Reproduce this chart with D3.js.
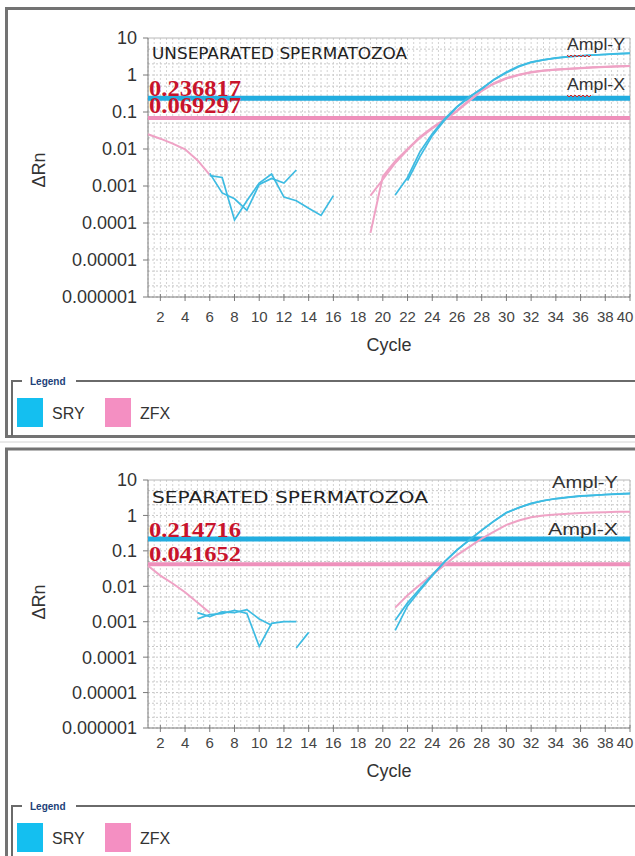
<!DOCTYPE html>
<html>
<head>
<meta charset="utf-8">
<script src="https://cdn.jsdelivr.net/npm/d3@7"></script>
<style>
body{margin:0;background:#fff;}
svg{display:block;}
</style>
</head>
<body>
<div class="c_chart"></div>
<script>
/*DATA
------------------------------------------------------
------------------------------------------------------
*/

const cycles = d3.range(1, 41);
const xTickValues = d3.range(2, 41, 2);
const yTickValues = [10, 1, 0.1, 0.01, 0.001, 0.0001, 0.00001, 0.000001];
const yTickLabels = ["10", "1", "0.1", "0.01", "0.001", "0.0001", "0.00001", "0.000001"];
const legendNames = ["SRY", "ZFX"];

/*unseparated : deltaRn per cycle (null = not plotted)*/
const unsepSryA = [
	null, null, null, null, null,
	0.0019, 0.0017, 0.00012, 0.0004, 0.0012,
	0.0021, 0.0005, 0.0004, 0.00025, 0.00016,
	0.00055, null, null, null, null,
	0.00057, 0.0017, 0.0083, 0.026, 0.065,
	0.14, 0.26, 0.42, 0.76, 1.2,
	1.74, 2.24, 2.57, 2.9, 3.16,
	3.3, 3.47, 3.6, 3.76, 3.9];
const unsepSryB = [
	null, null, null, null, null,
	0.0022, 0.00065, 0.00045, 0.00022, 0.0011,
	0.0016, 0.0012, 0.0027, null, null,
	null, null, null, null, null,
	null, 0.0014, 0.0062, 0.023, 0.06,
	0.135, 0.25, 0.43, 0.74, 1.15,
	1.68, 2.2, 2.55, 2.85, 3.1,
	3.28, 3.45, 3.58, 3.72, 3.85];
const unsepZfxA = [
	0.025, 0.019, 0.014, 0.0098, 0.005,
	0.002, null, null, null, null,
	null, null, null, null, null,
	null, null, null, 0.000054, 0.0018,
	0.0047, 0.01, 0.021, 0.038, 0.063,
	0.11, 0.21, 0.38, 0.6, 0.83,
	1.02, 1.2, 1.32, 1.41, 1.48,
	1.55, 1.62, 1.66, 1.72, 1.76];
const unsepZfxB = [
	null, null, null, null, null,
	null, null, null, null, null,
	null, null, null, null, null,
	null, null, null, 0.00055, 0.0015,
	0.0042, 0.0095, 0.02, 0.036, 0.06,
	0.105, 0.2, 0.37, 0.58, 0.8,
	1.0, 1.17, 1.3, 1.39, 1.46,
	1.53, 1.6, 1.64, 1.7, 1.74];
const unsepThresholds = [0.236817, 0.069297];

/*separated*/
const sepSryA = [
	null, null, null, null, 0.0012,
	0.0016, 0.0017, 0.0021, 0.0017, 0.0002,
	0.0009, 0.001, 0.001, null, null,
	null, null, null, null, null,
	0.00057, 0.0028, 0.0076, 0.02, 0.049,
	0.105, 0.2, 0.38, 0.69, 1.2,
	1.66, 2.19, 2.63, 3.0, 3.3,
	3.55, 3.7, 3.9, 4.07, 4.17];
const sepSryB = [
	null, null, null, null, 0.0018,
	0.0014, 0.0019, 0.0018, 0.0022, 0.0012,
	0.0008, null, 0.00018, 0.0005, null,
	null, null, null, null, null,
	0.0011, 0.0034, 0.0085, 0.021, 0.05,
	0.107, 0.205, 0.385, 0.7, 1.19,
	1.64, 2.15, 2.6, 2.95, 3.25,
	3.5, 3.68, 3.86, 4.0, 4.1];
const sepZfxA = [
	0.038, 0.02, 0.012, 0.0068, 0.0035,
	0.0018, null, null, null, null,
	null, null, null, null, null,
	null, null, null, null, null,
	0.0025, 0.0056, 0.011, 0.021, 0.04,
	0.076, 0.13, 0.22, 0.35, 0.54,
	0.72, 0.89, 1.0, 1.07, 1.12,
	1.17, 1.2, 1.23, 1.26, 1.27];
const sepThresholds = [0.214716, 0.041652];


/*INITIATE
------------------------------------------------------
------------------------------------------------------
*/

const width = 635;
const height = 856;
const plotLeft = 148;
const plotRight = 630;

const blue = "#3dbbe2";
const blueThr = "#22ade0";
const pink = "#efa2c5";
const pinkThr = "#ee90bb";
const font = "'Liberation Sans', Arial, sans-serif";

const panels = [
	{title:"UNSEPARATED SPERMATOZOA", sry:[unsepSryA, unsepSryB], zfx:[unsepZfxA, unsepZfxB], thr:unsepThresholds,
	 frameTop:8.5, frameBottom:436.5, plotTop:38, plotBottom:297,
	 titleY:59, titleLen:255, titleSize:16, thrY:[96, 113], thrSize:24,
	 amplY:{x:567, y:50, len:58}, amplX:{x:567, y:90, len:58}, squiggle:true,
	 xLabelY:322, cycleY:351, yLabelY:170, legendY:381, swatchY:398},
	{title:"SEPARATED SPERMATOZOA", sry:[sepSryA, sepSryB], zfx:[sepZfxA], thr:sepThresholds,
	 frameTop:449, frameBottom:870, plotTop:480, plotBottom:728,
	 titleY:503, titleLen:276, titleSize:15, thrY:[537, 561], thrSize:22,
	 amplY:{x:552, y:488, len:66}, amplX:{x:548, y:535, len:70}, squiggle:false,
	 xLabelY:748, cycleY:777, yLabelY:602, legendY:806, swatchY:823}
];

let svg = d3.select(".c_chart")
	.append("svg")
	.attr("width", width)
	.attr("height", height);

svg.append("line") //thin separator between the two screenshots
	.attr("x1", 0).attr("x2", width)
	.attr("y1", 442).attr("y2", 442)
	.attr("stroke", "#d4d4d4");

const x = d3.scaleLinear()
	.domain([1, 40])
	.range([plotLeft, plotRight]);


/*PANELS
------------------------------------------------------
------------------------------------------------------
*/

panels.forEach(function(p){

	let g = svg.append("g");

	const y = d3.scaleLog()
		.domain([0.000001, 10])
		.range([p.plotBottom, p.plotTop]);

	/*frame*/
	g.append("path")
		.attr("d", "M" + (width + 5) + "," + p.frameTop + "H6.5V" + p.frameBottom + "H" + (width + 5))
		.attr("fill", "none")
		.attr("stroke", "#737373")
		.attr("stroke-width", 3);

	/*grid*/
	let vGrid = d3.range(1, 40.01, 0.5);
	g.append("g").selectAll("line")
		.data(vGrid)
		.enter()
		.append("line")
		.attr("x1", d => x(d)).attr("x2", d => x(d))
		.attr("y1", p.plotTop).attr("y2", p.plotBottom)
		.attr("stroke", "#d2d2d2")
		.attr("stroke-dasharray", "2,2");

	let hGrid = [];
	yTickValues.slice(1).forEach(function(d){ hGrid.push(d, d * 2, d * 5); });
	g.append("g").selectAll("line")
		.data(hGrid)
		.enter()
		.append("line")
		.attr("x1", plotLeft).attr("x2", plotRight)
		.attr("y1", d => y(d)).attr("y2", d => y(d))
		.attr("stroke", "#c8c8c8")
		.attr("stroke-dasharray", "2,2");

	/*plot border*/
	g.append("path")
		.attr("d", "M" + plotLeft + "," + p.plotTop + "H" + plotRight + "V" + p.plotBottom)
		.attr("fill", "none")
		.attr("stroke", "#b8b8b8");
	g.append("path")
		.attr("d", "M" + plotLeft + "," + p.plotTop + "V" + p.plotBottom + "H" + plotRight)
		.attr("fill", "none")
		.attr("stroke", "#7a7a7a");

	/*y axis*/
	g.append("g").selectAll("line")
		.data(yTickValues)
		.enter()
		.append("line")
		.attr("x1", plotLeft - 5).attr("x2", plotLeft)
		.attr("y1", d => y(d)).attr("y2", d => y(d))
		.attr("stroke", "#7a7a7a");
	g.append("g").selectAll("text")
		.data(yTickValues)
		.enter()
		.append("text")
		.attr("x", 137)
		.attr("y", d => y(d))
		.attr("dy", "0.36em")
		.attr("text-anchor", "end")
		.attr("font-family", font)
		.attr("font-size", 18)
		.attr("fill", "#333")
		.text((d, i) => yTickLabels[i]);

	/*x axis*/
	g.append("g").selectAll("line")
		.data(xTickValues)
		.enter()
		.append("line")
		.attr("x1", d => x(d)).attr("x2", d => x(d))
		.attr("y1", p.plotBottom - 3).attr("y2", p.plotBottom + 4)
		.attr("stroke", "#7a7a7a");
	g.append("g").selectAll("text")
		.data(xTickValues)
		.enter()
		.append("text")
		.attr("x", d => Math.min(x(d), 625)) //last label kept inside the window
		.attr("y", p.xLabelY)
		.attr("text-anchor", "middle")
		.attr("font-family", font)
		.attr("font-size", 15)
		.attr("fill", "#444")
		.text(d => d);

	g.append("text")
		.attr("x", 389)
		.attr("y", p.cycleY)
		.attr("text-anchor", "middle")
		.attr("font-family", font)
		.attr("font-size", 18)
		.attr("fill", "#333")
		.text("Cycle");

	g.append("text")
		.attr("transform", "translate(45," + p.yLabelY + ") rotate(-90)")
		.attr("text-anchor", "middle")
		.attr("font-family", font)
		.attr("font-size", 18)
		.attr("fill", "#333")
		.text("\u0394Rn");

	/*thresholds*/
	g.append("line")
		.attr("x1", plotLeft).attr("x2", plotRight)
		.attr("y1", y(p.thr[0])).attr("y2", y(p.thr[0]))
		.attr("stroke", blueThr)
		.attr("stroke-width", 5);
	g.append("line")
		.attr("x1", plotLeft).attr("x2", plotRight)
		.attr("y1", y(p.thr[1])).attr("y2", y(p.thr[1]))
		.attr("stroke", pinkThr)
		.attr("stroke-width", 4);

	/*curves*/
	const line = d3.line()
		.defined(d => d != null)
		.x((d, i) => x(cycles[i]))
		.y(d => y(d));

	g.append("g").selectAll("path")
		.data(p.zfx)
		.enter()
		.append("path")
		.attr("d", line)
		.attr("fill", "none")
		.attr("stroke", pink)
		.attr("stroke-width", 2);

	g.append("g").selectAll("path")
		.data(p.sry)
		.enter()
		.append("path")
		.attr("d", line)
		.attr("fill", "none")
		.attr("stroke", blue)
		.attr("stroke-width", 1.7);

	/*threshold labels*/
	g.append("g").selectAll("text")
		.data(p.thr)
		.enter()
		.append("text")
		.attr("x", plotLeft + 1)
		.attr("y", (d, i) => p.thrY[i])
		.attr("font-family", "'Liberation Serif', 'Times New Roman', serif")
		.attr("font-weight", "bold")
		.attr("font-size", p.thrSize)
		.attr("textLength", 92)
		.attr("lengthAdjust", "spacingAndGlyphs")
		.attr("fill", "#c8142c")
		.text(d => d.toFixed(6));

	/*annotations*/
	g.append("text")
		.attr("x", 152)
		.attr("y", p.titleY)
		.attr("font-family", "'DejaVu Sans', sans-serif")
		.attr("font-size", p.titleSize)
		.attr("textLength", p.titleLen)
		.attr("lengthAdjust", "spacingAndGlyphs")
		.attr("fill", "#222")
		.text(p.title);

	[["Ampl-Y", p.amplY], ["Ampl-X", p.amplX]].forEach(function(a){
		g.append("text")
			.attr("x", a[1].x)
			.attr("y", a[1].y)
			.attr("font-family", font)
			.attr("font-size", 16)
			.attr("textLength", a[1].len)
			.attr("lengthAdjust", "spacingAndGlyphs")
			.attr("fill", "#333")
			.text(a[0]);
		if (p.squiggle) {
			let d = "M" + a[1].x + "," + (a[1].y + 5);
			for (let k = 0; k < 12; k++) {
				d += "l2," + (k % 2 ? -2 : 2);
			}
			g.append("path")
				.attr("d", d)
				.attr("fill", "none")
				.attr("stroke", "#d22")
				.attr("stroke-width", 1);
		}
	});

	/*legend*/
	g.append("path")
		.attr("d", "M22," + p.legendY + "H12V" + (p.frameBottom > height ? height : p.frameBottom))
		.attr("fill", "none")
		.attr("stroke", "#6a6a6a")
		.attr("stroke-width", 2);
	g.append("line")
		.attr("x1", 76).attr("x2", width)
		.attr("y1", p.legendY).attr("y2", p.legendY)
		.attr("stroke", "#6a6a6a")
		.attr("stroke-width", 2);
	g.append("text")
		.attr("x", 30)
		.attr("y", p.legendY + 4)
		.attr("font-family", font)
		.attr("font-size", 10)
		.attr("font-weight", "bold")
		.attr("fill", "#1d3f78")
		.text("Legend");

	let leg = g.append("g").selectAll("g")
		.data(legendNames)
		.enter()
		.append("g")
		.attr("transform", (d, i) => "translate(" + (17 + i * 88) + "," + p.swatchY + ")");
	leg.append("rect")
		.attr("width", 26)
		.attr("height", 29)
		.attr("fill", (d, i) => i ? "#f48fc2" : "#14bff0");
	leg.append("text")
		.attr("x", 35)
		.attr("y", 21)
		.attr("font-family", font)
		.attr("font-size", 16)
		.attr("fill", "#333")
		.text(d => d);
});
</script>
</body>
</html>
